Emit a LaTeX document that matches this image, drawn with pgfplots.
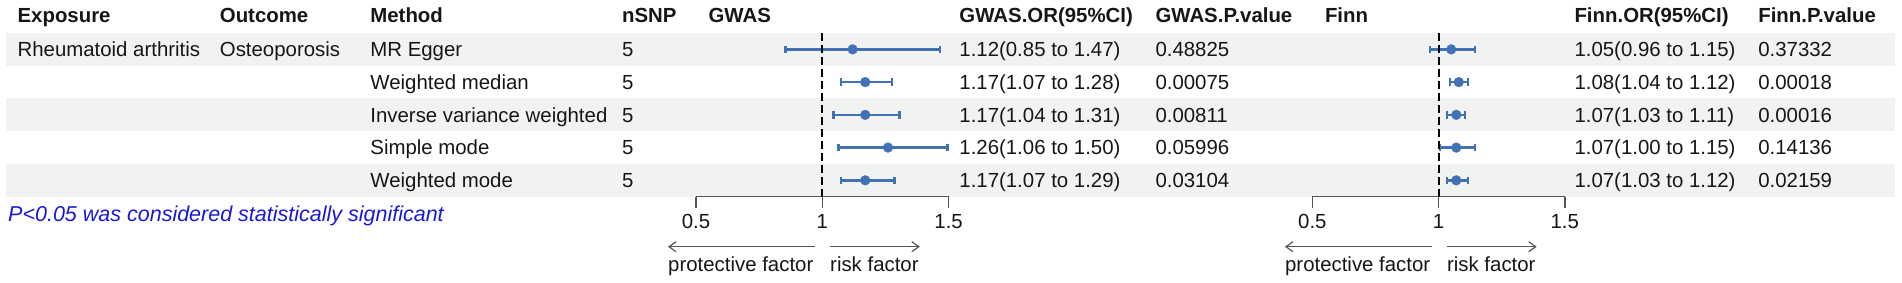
\documentclass[border=0pt]{standalone}
\usepackage{fontspec}
\setmainfont{Liberation Sans}
\usepackage{pgfplots}
\pgfplotsset{compat=1.18}
\usepackage{pgfplotstable}
\usetikzlibrary{arrows.meta}
\definecolor{barblue}{RGB}{66,113,180}
\definecolor{band}{RGB}{241,243,243}
\definecolor{txt}{RGB}{22,22,22}
\definecolor{pblue}{RGB}{25,25,215}
\definecolor{axgray}{RGB}{85,85,85}
\newcommand\fs{\fontsize{20.4bp}{24bp}\selectfont}

\pgfplotstableread{
row or lo hi
1 1.12 0.85 1.47
2 1.17 1.07 1.28
3 1.17 1.04 1.31
4 1.26 1.06 1.50
5 1.17 1.07 1.29
}\gwas
\pgfplotstableread{
row or lo hi
1 1.05 0.96 1.15
2 1.08 1.04 1.12
3 1.07 1.03 1.11
4 1.07 1.00 1.15
5 1.07 1.03 1.12
}\finn

\pgfplotsset{forest/.style={
  width=252.6bp, height=163.7bp, scale only axis,
  xmin=0.5, xmax=1.5, ymin=-5.5, ymax=-0.5,
  axis x line=bottom, axis y line=none,
  x axis line style={-, draw=axgray, line width=1.4bp},
  xtick={0.5,1,1.5}, tick align=outside, major tick length=11bp,
  xtick style={draw=axgray, line width=1.4bp},
  ytick=\empty,
  x tick label style={font=\fs, text=txt, anchor=base, yshift=-20.8bp, inner sep=0pt},
  /pgf/number format/assume math mode=true,
  clip=false,
  anchor=south west,
}}
\pgfplotsset{ormarks/.style={only marks, mark=*, mark size=5bp, color=barblue,
  mark options={fill=barblue, draw=barblue, line width=0.1bp},
  error bars/.cd, x dir=both, x explicit,
  error mark=none,
  error bar style={line width=2.7bp, barblue, {Bar[width=7.5bp,line width=2.2bp]}-{Bar[width=7.5bp,line width=2.2bp]}}}}

\begin{document}
\begin{tikzpicture}
\path[use as bounding box] (0,0) rectangle (1902bp,-283bp);
% bands
\fill[band] (6bp,-33bp) rectangle (1895bp,-65.74bp);
\fill[band] (6bp,-98.48bp) rectangle (1895bp,-131.22bp);
\fill[band] (6bp,-163.96bp) rectangle (1895bp,-196.7bp);

\tikzset{hd/.style={anchor=base west, inner sep=0pt, font=\fs\bfseries, text=txt},
         cl/.style={anchor=base west, inner sep=0pt, font=\fs, text=txt}}
% headers
\node[hd] at (17.4bp,-22bp) {Exposure};
\node[hd] at (219.7bp,-22bp) {Outcome};
\node[hd] at (370.2bp,-22bp) {Method};
\node[hd] at (621.9bp,-22bp) {nSNP};
\node[hd] at (708.4bp,-22bp) {GWAS};
\node[hd] at (959.2bp,-22bp) {GWAS.OR(95\%CI)};
\node[hd] at (1155.3bp,-22bp) {GWAS.P.value};
\node[hd] at (1324.8bp,-22bp) {Finn};
\node[hd] at (1574.3bp,-22bp) {Finn.OR(95\%CI)};
\node[hd] at (1758.1bp,-22bp) {Finn.P.value};

% rows
\node[cl] at (17.4bp,-56.6bp) {Rheumatoid arthritis};
\node[cl] at (219.7bp,-56.6bp) {Osteoporosis};
\node[cl] at (370.2bp,-56.6bp) {MR Egger};
\node[cl] at (370.2bp,-89.4bp) {Weighted median};
\node[cl] at (370.2bp,-122.1bp) {Inverse variance weighted};
\node[cl] at (370.2bp,-154.9bp) {Simple mode};
\node[cl] at (370.2bp,-187.6bp) {Weighted mode};
\foreach \yy in {56.6,89.4,122.1,154.9,187.6}{\node[cl] at (621.9bp,-\yy bp) {5};}

\node[cl] at (959.2bp,-56.6bp) {1.12(0.85 to 1.47)};
\node[cl] at (959.2bp,-89.4bp) {1.17(1.07 to 1.28)};
\node[cl] at (959.2bp,-122.1bp) {1.17(1.04 to 1.31)};
\node[cl] at (959.2bp,-154.9bp) {1.26(1.06 to 1.50)};
\node[cl] at (959.2bp,-187.6bp) {1.17(1.07 to 1.29)};
\node[cl] at (1155.3bp,-56.6bp) {0.48825};
\node[cl] at (1155.3bp,-89.4bp) {0.00075};
\node[cl] at (1155.3bp,-122.1bp) {0.00811};
\node[cl] at (1155.3bp,-154.9bp) {0.05996};
\node[cl] at (1155.3bp,-187.6bp) {0.03104};

\node[cl] at (1574.3bp,-56.6bp) {1.05(0.96 to 1.15)};
\node[cl] at (1574.3bp,-89.4bp) {1.08(1.04 to 1.12)};
\node[cl] at (1574.3bp,-122.1bp) {1.07(1.03 to 1.11)};
\node[cl] at (1574.3bp,-154.9bp) {1.07(1.00 to 1.15)};
\node[cl] at (1574.3bp,-187.6bp) {1.07(1.03 to 1.12)};
\node[cl] at (1758.1bp,-56.6bp) {0.37332};
\node[cl] at (1758.1bp,-89.4bp) {0.00018};
\node[cl] at (1758.1bp,-122.1bp) {0.00016};
\node[cl] at (1758.1bp,-154.9bp) {0.14136};
\node[cl] at (1758.1bp,-187.6bp) {0.02159};

\node[anchor=base west, inner sep=0pt, font=\fontsize{21.5bp}{25bp}\selectfont\itshape, text=pblue] at (8bp,-221.5bp) {P<0.05 was considered statistically significant};

% GWAS forest
\begin{axis}[forest, at={(696bp,-196.7bp)}]
\addplot[ormarks] table[x=or, y expr=-\thisrow{row}, x error plus expr=\thisrow{hi}-\thisrow{or}, x error minus expr=\thisrow{or}-\thisrow{lo}] {\gwas};
\addplot[draw=black, line width=2bp, dash pattern=on 8bp off 4bp] coordinates {(1,-0.5) (1,-5.5)};
\end{axis}
% Finn forest
\begin{axis}[forest, width=252.4bp, at={(1312.4bp,-196.7bp)}]
\addplot[ormarks] table[x=or, y expr=-\thisrow{row}, x error plus expr=\thisrow{hi}-\thisrow{or}, x error minus expr=\thisrow{or}-\thisrow{lo}] {\finn};
\addplot[draw=black, line width=2bp, dash pattern=on 8bp off 4bp] coordinates {(1,-0.5) (1,-5.5)};
\end{axis}

% direction arrows
\tikzset{dar/.style={draw=axgray, line width=1.2bp, -{Straight Barb[length=7bp,width=10bp]}}}
\foreach \xo in {822.3,1439.2}{
  \draw[dar] (\xo bp-7.3bp,-246.7bp) -- (\xo bp-154.3bp,-246.7bp);
  \draw[dar] (\xo bp+7.3bp,-246.7bp) -- (\xo bp+97.5bp,-246.7bp);
  \node[anchor=base west, inner sep=0pt, font=\fs, text=txt] at (\xo bp-154.3bp,-271.5bp) {protective factor};
  \node[anchor=base west, inner sep=0pt, font=\fs, text=txt] at (\xo bp+7.7bp,-271.5bp) {risk factor};
}
\end{tikzpicture}
\end{document}
